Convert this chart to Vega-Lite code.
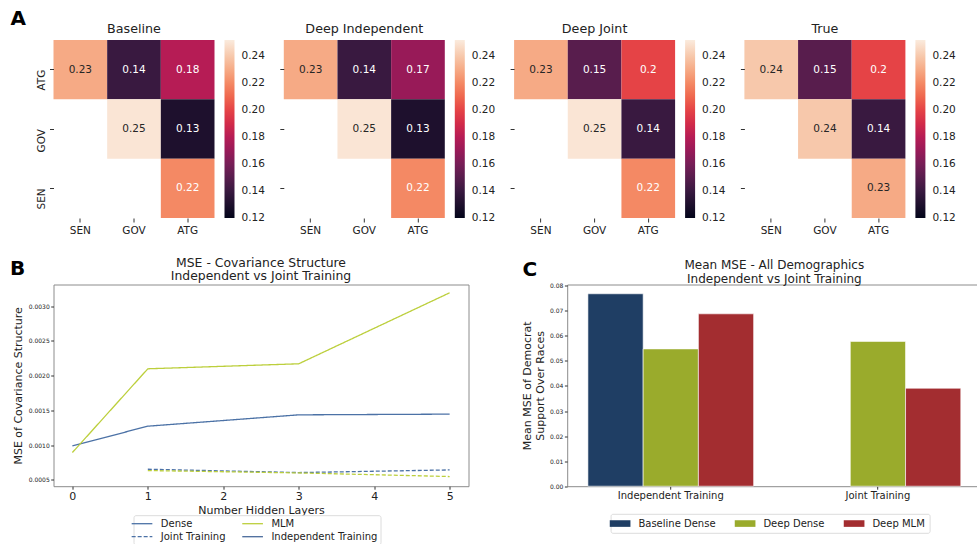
{
  "$schema": "https://vega.github.io/schema/vega-lite/v6.json",
  "padding": {"left": 9.5, "top": 8, "right": 0, "bottom": 0},
  "autosize": {"type": "pad"},
  "background": "white",
  "config": {
    "font": "DejaVu Sans",
    "view": {"stroke": null},
    "axis": {"labelColor": "#222", "titleColor": "#222", "tickColor": "#333", "titleFontWeight": "normal", "grid": false, "labelFont": "DejaVu Sans", "titleFont": "DejaVu Sans"},
    "title": {"color": "#222", "fontWeight": "normal", "font": "DejaVu Sans"},
    "legend": {"labelColor": "#222", "labelFont": "DejaVu Sans"},
    "text": {"font": "DejaVu Sans"}
  },
  "datasets": {
    "heat": [
      {"model": "Baseline", "row": "ATG", "col": "SEN", "value": 0.23},
      {"model": "Baseline", "row": "ATG", "col": "GOV", "value": 0.14},
      {"model": "Baseline", "row": "ATG", "col": "ATG", "value": 0.18},
      {"model": "Baseline", "row": "GOV", "col": "GOV", "value": 0.25},
      {"model": "Baseline", "row": "GOV", "col": "ATG", "value": 0.13},
      {"model": "Baseline", "row": "SEN", "col": "ATG", "value": 0.22},
      {"model": "Deep Independent", "row": "ATG", "col": "SEN", "value": 0.23},
      {"model": "Deep Independent", "row": "ATG", "col": "GOV", "value": 0.14},
      {"model": "Deep Independent", "row": "ATG", "col": "ATG", "value": 0.17},
      {"model": "Deep Independent", "row": "GOV", "col": "GOV", "value": 0.25},
      {"model": "Deep Independent", "row": "GOV", "col": "ATG", "value": 0.13},
      {"model": "Deep Independent", "row": "SEN", "col": "ATG", "value": 0.22},
      {"model": "Deep Joint", "row": "ATG", "col": "SEN", "value": 0.23},
      {"model": "Deep Joint", "row": "ATG", "col": "GOV", "value": 0.15},
      {"model": "Deep Joint", "row": "ATG", "col": "ATG", "value": 0.2},
      {"model": "Deep Joint", "row": "GOV", "col": "GOV", "value": 0.25},
      {"model": "Deep Joint", "row": "GOV", "col": "ATG", "value": 0.14},
      {"model": "Deep Joint", "row": "SEN", "col": "ATG", "value": 0.22},
      {"model": "True", "row": "ATG", "col": "SEN", "value": 0.24},
      {"model": "True", "row": "ATG", "col": "GOV", "value": 0.15},
      {"model": "True", "row": "ATG", "col": "ATG", "value": 0.2},
      {"model": "True", "row": "GOV", "col": "GOV", "value": 0.24},
      {"model": "True", "row": "GOV", "col": "ATG", "value": 0.14},
      {"model": "True", "row": "SEN", "col": "ATG", "value": 0.23}
    ],
    "lines": [
      {"layers": 0, "mse": 0.000989, "model": "Dense", "training": "Independent"},
      {"layers": 1, "mse": 0.001273, "model": "Dense", "training": "Independent"},
      {"layers": 3, "mse": 0.001436, "model": "Dense", "training": "Independent"},
      {"layers": 5, "mse": 0.001446, "model": "Dense", "training": "Independent"},
      {"layers": 0, "mse": 0.000894, "model": "MLM", "training": "Independent"},
      {"layers": 1, "mse": 0.002098, "model": "MLM", "training": "Independent"},
      {"layers": 3, "mse": 0.00217, "model": "MLM", "training": "Independent"},
      {"layers": 5, "mse": 0.003191, "model": "MLM", "training": "Independent"},
      {"layers": 1, "mse": 0.000654, "model": "Dense", "training": "Joint"},
      {"layers": 3, "mse": 0.000606, "model": "Dense", "training": "Joint"},
      {"layers": 5, "mse": 0.000644, "model": "Dense", "training": "Joint"},
      {"layers": 1, "mse": 0.000635, "model": "MLM", "training": "Joint"},
      {"layers": 3, "mse": 0.000601, "model": "MLM", "training": "Joint"},
      {"layers": 5, "mse": 0.000549, "model": "MLM", "training": "Joint"}
    ],
    "bars": [
      {"training": "Independent Training", "model": "Baseline Dense", "mse": 0.0768},
      {"training": "Independent Training", "model": "Deep Dense", "mse": 0.0548},
      {"training": "Independent Training", "model": "Deep MLM", "mse": 0.0688},
      {"training": "Joint Training", "model": "Deep Dense", "mse": 0.0578},
      {"training": "Joint Training", "model": "Deep MLM", "mse": 0.0391}
    ]
  },
  "vconcat": [
    {
      "hconcat": [
        {
          "width": 161, "height": 178,
          "data": {"name": "heat"},
          "transform": [{"filter": "datum.model === 'Baseline'"}],
          "title": {"text": "Baseline", "fontSize": 12.7, "offset": 4, "anchor": "middle", "frame": "group"},
          "encoding": {
            "x": {"field": "col", "type": "nominal", "scale": {"domain": ["SEN", "GOV", "ATG"], "paddingInner": 0, "paddingOuter": 0}, "axis": {"title": null, "domain": false, "tickSize": 4, "labelAngle": 0, "labelPadding": 3, "labelFontSize": 10.5}},
            "y": {"field": "row", "type": "nominal", "scale": {"domain": ["ATG", "GOV", "SEN"], "paddingInner": 0, "paddingOuter": 0}, "axis": {"title": null, "domain": false, "tickSize": 4, "labelAngle": -90, "labelAlign": "right", "labelBaseline": "bottom", "labelPadding": 3, "labelFontSize": 10.5}}
          },
          "layer": [
            {"mark": {"type": "rect"}, "encoding": {"color": {"field": "value", "type": "quantitative", "scale": {"type": "linear", "domain": [0.12, 0.13886, 0.15771, 0.17657, 0.19543, 0.21429, 0.23314, 0.252], "range": ["#03051a", "#35193e", "#701f57", "#ad1759", "#e13342", "#f37651", "#f6b48f", "#faebdd"], "interpolate": "rgb"}, "legend": {"orient": "right", "offset": 10, "title": null, "gradientLength": 178, "gradientThickness": 10, "gradientStrokeWidth": 0, "labelFontSize": 10.5, "labelOffset": 7, "labelBaseline": "middle", "labelOverlap": false, "values": [0.12, 0.14, 0.16, 0.18, 0.2, 0.22, 0.24], "format": ".2f", "direction": "vertical", "encode": {"labels": {"update": {"baseline": {"value": "middle"}}}}}}}},
            {"mark": {"type": "text", "fontSize": 10.5}, "encoding": {"text": {"field": "value", "type": "quantitative", "format": ".2~g"}, "color": {"condition": {"test": "datum.value < 0.225", "value": "white"}, "value": "#262626"}}}
          ]
        },
        {
          "width": 161, "height": 178,
          "data": {"name": "heat"},
          "transform": [{"filter": "datum.model === 'Deep Independent'"}],
          "title": {"text": "Deep Independent", "fontSize": 12.7, "offset": 4, "anchor": "middle", "frame": "group"},
          "encoding": {
            "x": {"field": "col", "type": "nominal", "scale": {"domain": ["SEN", "GOV", "ATG"], "paddingInner": 0, "paddingOuter": 0}, "axis": {"title": null, "domain": false, "tickSize": 4, "labelAngle": 0, "labelPadding": 3, "labelFontSize": 10.5}},
            "y": {"field": "row", "type": "nominal", "scale": {"domain": ["ATG", "GOV", "SEN"], "paddingInner": 0, "paddingOuter": 0}, "axis": {"title": null, "domain": false, "tickSize": 4, "labels": false}}
          },
          "layer": [
            {"mark": {"type": "rect"}, "encoding": {"color": {"field": "value", "type": "quantitative", "scale": {"type": "linear", "domain": [0.12, 0.13886, 0.15771, 0.17657, 0.19543, 0.21429, 0.23314, 0.252], "range": ["#03051a", "#35193e", "#701f57", "#ad1759", "#e13342", "#f37651", "#f6b48f", "#faebdd"], "interpolate": "rgb"}, "legend": {"orient": "right", "offset": 10, "title": null, "gradientLength": 178, "gradientThickness": 10, "gradientStrokeWidth": 0, "labelFontSize": 10.5, "labelOffset": 7, "labelBaseline": "middle", "labelOverlap": false, "values": [0.12, 0.14, 0.16, 0.18, 0.2, 0.22, 0.24], "format": ".2f", "direction": "vertical", "encode": {"labels": {"update": {"baseline": {"value": "middle"}}}}}}}},
            {"mark": {"type": "text", "fontSize": 10.5}, "encoding": {"text": {"field": "value", "type": "quantitative", "format": ".2~g"}, "color": {"condition": {"test": "datum.value < 0.225", "value": "white"}, "value": "#262626"}}}
          ]
        },
        {
          "width": 161, "height": 178,
          "data": {"name": "heat"},
          "transform": [{"filter": "datum.model === 'Deep Joint'"}],
          "title": {"text": "Deep Joint", "fontSize": 12.7, "offset": 4, "anchor": "middle", "frame": "group"},
          "encoding": {
            "x": {"field": "col", "type": "nominal", "scale": {"domain": ["SEN", "GOV", "ATG"], "paddingInner": 0, "paddingOuter": 0}, "axis": {"title": null, "domain": false, "tickSize": 4, "labelAngle": 0, "labelPadding": 3, "labelFontSize": 10.5}},
            "y": {"field": "row", "type": "nominal", "scale": {"domain": ["ATG", "GOV", "SEN"], "paddingInner": 0, "paddingOuter": 0}, "axis": {"title": null, "domain": false, "tickSize": 4, "labels": false}}
          },
          "layer": [
            {"mark": {"type": "rect"}, "encoding": {"color": {"field": "value", "type": "quantitative", "scale": {"type": "linear", "domain": [0.12, 0.13886, 0.15771, 0.17657, 0.19543, 0.21429, 0.23314, 0.252], "range": ["#03051a", "#35193e", "#701f57", "#ad1759", "#e13342", "#f37651", "#f6b48f", "#faebdd"], "interpolate": "rgb"}, "legend": {"orient": "right", "offset": 10, "title": null, "gradientLength": 178, "gradientThickness": 10, "gradientStrokeWidth": 0, "labelFontSize": 10.5, "labelOffset": 7, "labelBaseline": "middle", "labelOverlap": false, "values": [0.12, 0.14, 0.16, 0.18, 0.2, 0.22, 0.24], "format": ".2f", "direction": "vertical", "encode": {"labels": {"update": {"baseline": {"value": "middle"}}}}}}}},
            {"mark": {"type": "text", "fontSize": 10.5}, "encoding": {"text": {"field": "value", "type": "quantitative", "format": ".2~g"}, "color": {"condition": {"test": "datum.value < 0.225", "value": "white"}, "value": "#262626"}}}
          ]
        },
        {
          "width": 161, "height": 178,
          "data": {"name": "heat"},
          "transform": [{"filter": "datum.model === 'True'"}],
          "title": {"text": "True", "fontSize": 12.7, "offset": 4, "anchor": "middle", "frame": "group"},
          "encoding": {
            "x": {"field": "col", "type": "nominal", "scale": {"domain": ["SEN", "GOV", "ATG"], "paddingInner": 0, "paddingOuter": 0}, "axis": {"title": null, "domain": false, "tickSize": 4, "labelAngle": 0, "labelPadding": 3, "labelFontSize": 10.5}},
            "y": {"field": "row", "type": "nominal", "scale": {"domain": ["ATG", "GOV", "SEN"], "paddingInner": 0, "paddingOuter": 0}, "axis": {"title": null, "domain": false, "tickSize": 4, "labels": false}}
          },
          "layer": [
            {"mark": {"type": "rect"}, "encoding": {"color": {"field": "value", "type": "quantitative", "scale": {"type": "linear", "domain": [0.12, 0.13886, 0.15771, 0.17657, 0.19543, 0.21429, 0.23314, 0.252], "range": ["#03051a", "#35193e", "#701f57", "#ad1759", "#e13342", "#f37651", "#f6b48f", "#faebdd"], "interpolate": "rgb"}, "legend": {"orient": "right", "offset": 10, "title": null, "gradientLength": 178, "gradientThickness": 10, "gradientStrokeWidth": 0, "labelFontSize": 10.5, "labelOffset": 7, "labelBaseline": "middle", "labelOverlap": false, "values": [0.12, 0.14, 0.16, 0.18, 0.2, 0.22, 0.24], "format": ".2f", "direction": "vertical", "encode": {"labels": {"update": {"baseline": {"value": "middle"}}}}}}}},
            {"mark": {"type": "text", "fontSize": 10.5}, "encoding": {"text": {"field": "value", "type": "quantitative", "format": ".2~g"}, "color": {"condition": {"test": "datum.value < 0.225", "value": "white"}, "value": "#262626"}}}
          ]
        }
      ],
      "spacing": 69.3,
      "bounds": "flush",
      "resolve": {"scale": {"color": "independent"}, "legend": {"color": "independent"}},
      "title": {"text": "A", "anchor": "start", "frame": "group", "fontSize": 20, "fontWeight": "bold", "color": "#000", "dx": -43, "dy": 9.7}
    },
    {
      "hconcat": [
        {
          "hconcat": [
            {
              "width": 415, "height": 201.7,
              "view": {"stroke": "#8c8c8c"},
              "data": {"name": "lines"},
              "title": {"text": ["MSE - Covariance Structure", "Independent vs Joint Training"], "fontSize": 12.4, "lineHeight": 13.3, "offset": 2, "anchor": "middle", "frame": "group"},
              "mark": {"type": "line", "strokeWidth": 1.3},
              "encoding": {
                "x": {"field": "layers", "type": "quantitative", "scale": {"domain": [-0.25, 5.25], "nice": false, "zero": false}, "axis": {"values": [0, 1, 2, 3, 4, 5], "format": "d", "title": "Number Hidden Layers", "titleFontSize": 11, "titlePadding": 3, "labelFontSize": 11, "tickSize": 3, "labelPadding": 1, "domain": false}},
                "y": {"field": "mse", "type": "quantitative", "scale": {"domain": [0.00041, 0.00331], "nice": false, "zero": false}, "axis": {"values": [0.0005, 0.001, 0.0015, 0.002, 0.0025, 0.003], "format": ".4f", "title": "MSE of Covariance Structure", "titleFontSize": 11, "titlePadding": 4.5, "labelFontSize": 6, "tickSize": 2.8, "labelPadding": 1.5, "domain": false}},
                "color": {"field": "model", "type": "nominal", "scale": {"domain": ["Dense", "Joint Training", "MLM", "Independent Training"], "range": ["#4c72a6", "#4c72a6", "#bccf3c", "#4a6b9b"]}, "legend": {"orient": "none", "legendX": 80, "legendY": 230.7, "columns": 2, "title": null, "symbolType": "M-2,0H2", "symbolSize": 107, "symbolStrokeWidth": 1.3, "symbolFillColor": "transparent", "labelFontSize": 10, "labelOffset": 12.8, "columnPadding": 13.6, "rowPadding": 2, "padding": 2.5, "strokeColor": "#dcdcdc", "cornerRadius": 2, "encode": {"symbols": {"update": {"strokeDash": {"signal": "datum.value === 'Joint Training' ? [4, 2] : null"}}}}}},
                "strokeDash": {"field": "training", "type": "nominal", "scale": {"domain": ["Independent", "Joint"], "range": [[1, 0], [4, 2]]}, "legend": null}
              }
            }
          ],
          "title": {"text": "B", "anchor": "start", "frame": "group", "fontSize": 20, "fontWeight": "bold", "color": "#000", "dx": -43.5, "dy": 27}
        },
        {
          "hconcat": [
            {
              "width": 414.3, "height": 201.7,
              "view": {"stroke": "#8c8c8c"},
              "data": {"name": "bars"},
              "title": {"text": ["Mean MSE - All Demographics", "Independent vs Joint Training"], "fontSize": 12, "lineHeight": 14, "offset": -3, "anchor": "middle", "frame": "group"},
              "mark": {"type": "bar", "stroke": "white", "strokeWidth": 0.6},
              "encoding": {
                "x": {"field": "training", "type": "nominal", "scale": {"domain": ["Independent Training", "Joint Training"], "paddingInner": 0.2, "paddingOuter": 0.1}, "axis": {"title": null, "labelAngle": 0, "labelFontSize": 10, "tickSize": 3, "labelPadding": 1.5, "domain": false}},
                "xOffset": {"field": "model", "type": "nominal", "scale": {"domain": ["Baseline Dense", "Deep Dense", "Deep MLM"], "paddingInner": 0, "paddingOuter": 0}},
                "y": {"field": "mse", "type": "quantitative", "scale": {"domain": [0, 0.0805], "nice": false}, "axis": {"values": [0, 0.01, 0.02, 0.03, 0.04, 0.05, 0.06, 0.07, 0.08], "format": ".2f", "title": ["Mean MSE of Democrat", "Support Over Races"], "titleFontSize": 11, "titleLineHeight": 12.6, "titlePadding": 4, "labelFontSize": 6, "tickSize": 2.8, "labelPadding": 1.5, "domain": false}},
                "color": {"field": "model", "type": "nominal", "scale": {"domain": ["Baseline Dense", "Deep Dense", "Deep MLM"], "range": ["#1f3e64", "#9aab2c", "#a32d30"]}, "legend": {"orient": "none", "legendX": 43.4, "legendY": 229.3, "direction": "horizontal", "title": null, "symbolType": "M-2,-0.64H2V0.64H-2Z", "symbolSize": 107, "symbolStrokeWidth": 0, "labelFontSize": 10, "labelOffset": 12.8, "columnPadding": 19, "padding": 4, "strokeColor": "#dcdcdc", "cornerRadius": 2}}
              }
            }
          ],
          "title": {"text": "C", "anchor": "start", "frame": "group", "fontSize": 20, "fontWeight": "bold", "color": "#000", "dx": -44.7, "dy": 26}
        }
      ],
      "spacing": 51.7,
      "resolve": {"scale": {"color": "independent", "strokeDash": "independent"}, "legend": {"color": "independent"}}
    }
  ],
  "spacing": 19.5,
  "resolve": {"scale": {"color": "independent", "strokeDash": "independent"}, "legend": {"color": "independent"}}
}
